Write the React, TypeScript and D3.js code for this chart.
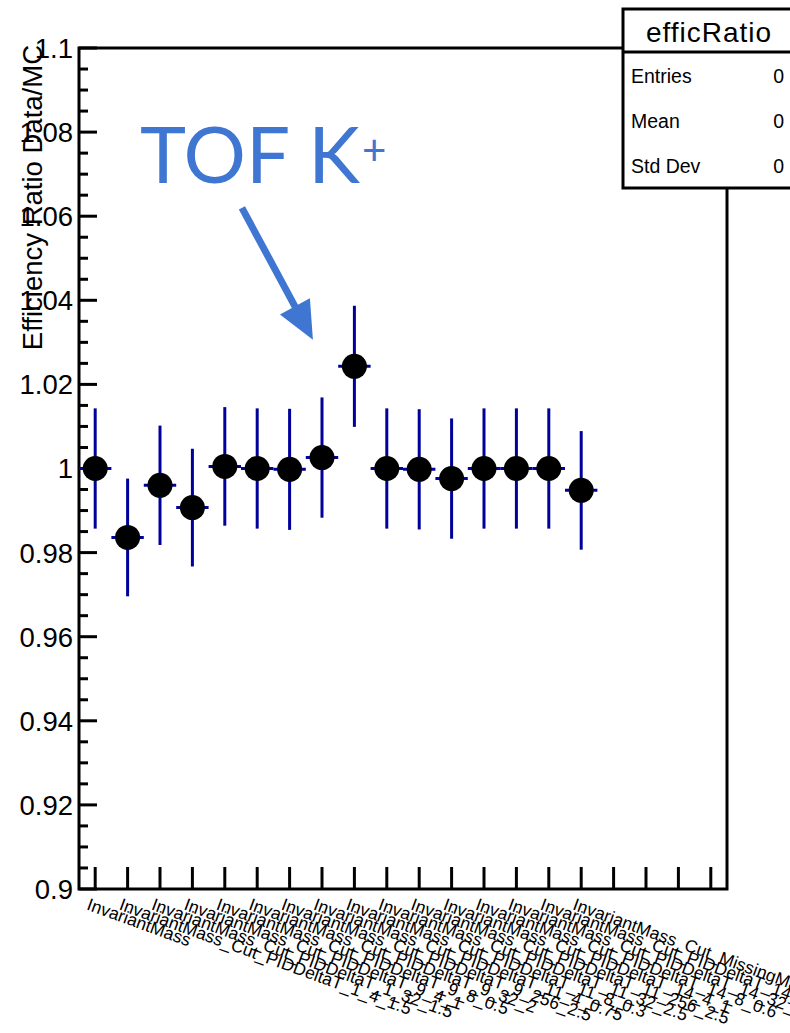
import React from "react";
import * as d3 from "d3";

// ---- data ----
const categories: string[] = [
  "InvariantMass",
  "InvariantMass_Cut_PIDDeltaT_1_4_1.5",
  "InvariantMass_Cut_PIDDeltaT_1_32_1.5",
  "InvariantMass_Cut_PIDDeltaT_9_4_1",
  "InvariantMass_Cut_PIDDeltaT_9_8_0.5",
  "InvariantMass_Cut_PIDDeltaT_9_32_2",
  "InvariantMass_Cut_PIDDeltaT_9_256_2.5",
  "InvariantMass_Cut_PIDDeltaT_11_4_0.75",
  "InvariantMass_Cut_PIDDeltaT_11_8_0.3",
  "InvariantMass_Cut_PIDDeltaT_11_32_2.5",
  "InvariantMass_Cut_PIDDeltaT_11_256_2.5",
  "InvariantMass_Cut_PIDDeltaT_14_4_1",
  "InvariantMass_Cut_PIDDeltaT_14_8_0.6",
  "InvariantMass_Cut_PIDDeltaT_14_32_2.5",
  "InvariantMass_Cut_PIDDeltaT_14_256_2.5",
  "InvariantMass_Cut_MissingMass",
];
const ratio: number[] = [
  1.0, 0.9836, 0.996, 0.9907, 1.0005, 1.0, 0.9998, 1.0026, 1.0243, 1.0,
  0.9998, 0.9976, 1.0, 1.0, 1.0, 0.9948,
];
const ratioErr: number[] = [
  0.0143, 0.014, 0.0142, 0.014, 0.0141, 0.0143, 0.0144, 0.0143, 0.0144,
  0.0143, 0.0143, 0.0143, 0.0143, 0.0143, 0.0143, 0.0141,
];
const nBins = 20;
const yMajorTicks: number[] = [0.9, 0.92, 0.94, 0.96, 0.98, 1.0, 1.02, 1.04, 1.06, 1.08, 1.1];
const yTickLabels: string[] = ["0.9", "0.92", "0.94", "0.96", "0.98", "1", "1.02", "1.04", "1.06", "1.08", "1.1"];
const yTitle = "Efficiency Ratio Data/MC";
const statsTitle = "efficRatio";
const statsLabels: string[] = ["Entries", "Mean", "Std Dev"];
const statsValues: string[] = ["0", "0", "0"];
const annotationText = "TOF K";
const annotationSup = "+";
const arrowTip = { bin: 7.22, value: 1.0306 };

// ---- layout ----
const W = 790;
const H = 1033;
const left = 79;
const right = 727;
const top = 48;
const bottom = 889;
const FONT = "'Liberation Sans', Arial, Helvetica, sans-serif";
const BLUE = "#3e76d2";
const ERR = "#00009a";

export default function App() {
  const x = d3.scaleLinear().domain([0, nBins]).range([left, right]);
  const y = d3.scaleLinear().domain([0.9, 1.1]).range([bottom, top]);
  const minor = d3.range(0, 41).map((i) => 0.9 + i * 0.005);
  const binW = x(1) - x(0);

  const tipX = x(arrowTip.bin);
  const tipY = y(arrowTip.value);
  const startX = tipX - 71;
  const startY = tipY - 132;
  const len = Math.hypot(tipX - startX, tipY - startY);
  const ux = (tipX - startX) / len;
  const uy = (tipY - startY) / len;
  const hb = 38;
  const hw = 17;
  const bx = tipX - ux * hb;
  const by = tipY - uy * hb;
  const head = [
    [tipX, tipY],
    [bx + uy * hw, by - ux * hw],
    [bx - uy * hw, by + ux * hw],
  ]
    .map((p) => p.join(","))
    .join(" ");

  return (
    <svg
      width={W}
      height={H}
      style={{ position: "absolute", left: 0, top: 0, background: "#fff" }}
      fontFamily={FONT}
    >
      <rect x={0} y={0} width={W} height={H} fill="#fff" />
      {/* frame */}
      <rect x={left} y={top} width={right - left} height={bottom - top} fill="none" stroke="#000" strokeWidth={3} />

      {/* y ticks */}
      {minor.map((v, i) => (
        <line key={"mi" + i} x1={left} x2={left + (i % 4 === 0 ? 18 : 9)} y1={y(v)} y2={y(v)} stroke="#000" strokeWidth={3} />
      ))}
      {yMajorTicks.map((v, i) => (
        <text key={"yl" + i} x={73} y={y(v)} dy="0.36em" textAnchor="end" fontSize={27.5} fill="#000">
          {yTickLabels[i]}
        </text>
      ))}
      <text transform={`translate(42,${top - 3}) rotate(-90)`} textAnchor="end" fontSize={27.5} fill="#000">
        {yTitle}
      </text>

      {/* x ticks */}
      {d3.range(nBins).map((i) => (
        <line key={"xt" + i} x1={x(i + 0.5)} x2={x(i + 0.5)} y1={bottom} y2={bottom - 22} stroke="#000" strokeWidth={3} />
      ))}
      {categories.map((c, i) => (
        <text
          key={"xl" + i}
          transform={`translate(${x(i + 0.5) - 5},${bottom + 8}) rotate(20)`}
          x={0}
          y={13}
          fontSize={17.5}
          fill="#000"
        >
          {c}
        </text>
      ))}

      {/* points */}
      {ratio.map((v, i) => {
        const cx = x(i + 0.5);
        return (
          <g key={"p" + i}>
            <line x1={cx} x2={cx} y1={y(v + ratioErr[i])} y2={y(v - ratioErr[i])} stroke={ERR} strokeWidth={3} />
            <line x1={cx - binW / 2} x2={cx + binW / 2} y1={y(v)} y2={y(v)} stroke={ERR} strokeWidth={3} />
            <circle cx={cx} cy={y(v)} r={12.5} fill="#000" />
          </g>
        );
      })}

      {/* annotation */}
      <text x={140} y={183} fontSize={78} fill={BLUE} fontFamily="Lato, 'Open Sans', sans-serif">
        {annotationText}
      </text>
      <text x={362} y={165} fontSize={42} fill={BLUE} fontFamily="Lato, 'Open Sans', sans-serif">
        {annotationSup}
      </text>
      <line x1={startX} y1={startY} x2={bx + ux * 4} y2={by + uy * 4} stroke={BLUE} strokeWidth={7} />
      <polygon points={head} fill={BLUE} />

      {/* stats box */}
      <rect x={623} y={9} width={200} height={179} fill="#fff" stroke="#000" strokeWidth={3} />
      <line x1={623} x2={W} y1={52} y2={52} stroke="#000" strokeWidth={3} />
      <text x={709} y={42} textAnchor="middle" fontSize={28} letterSpacing={1} fill="#000">
        {statsTitle}
      </text>
      {statsLabels.map((s, i) => (
        <g key={"s" + i}>
          <text x={631} y={83 + i * 45} fontSize={19.5} fill="#000">
            {s}
          </text>
          <text x={784} y={83 + i * 45} textAnchor="end" fontSize={19.5} fill="#000">
            {statsValues[i]}
          </text>
        </g>
      ))}
    </svg>
  );
}
